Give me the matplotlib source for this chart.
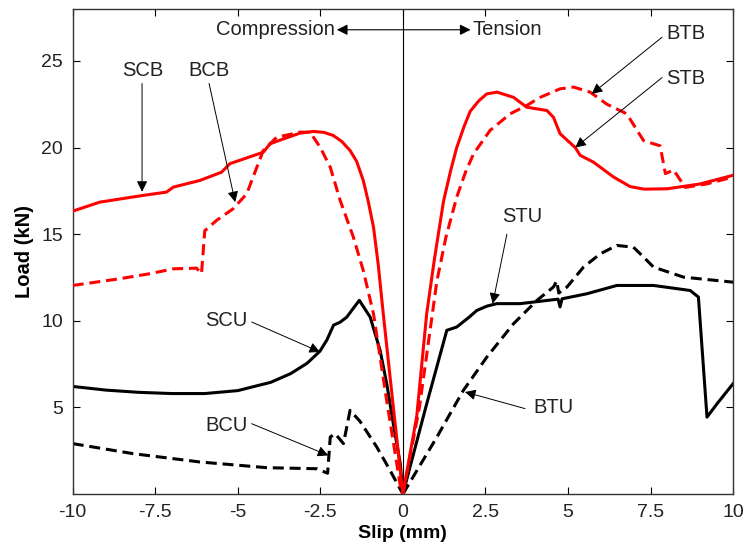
import numpy as np
import matplotlib
matplotlib.use("Agg")
import matplotlib.pyplot as plt

plt.rcParams['font.family'] = ['Liberation Sans', 'DejaVu Sans']

# --- datos (slip en mm, carga en kN) ---
# compresion (slip negativo)
scb_x = [-10.0, -9.18, -7.86, -7.16, -6.95, -6.15, -5.49, -5.24, -4.23, -4.02, -3.62,
         -3.12, -2.71, -2.4, -2.11, -1.85, -1.6, -1.4, -1.2, -1.05, -0.89, -0.75, -0.6,
         -0.3, 0.0]
scb_y = [16.33, 16.85, 17.24, 17.43, 17.72, 18.1, 18.58, 19.07, 19.73, 20.22, 20.5,
         20.83, 20.93, 20.88, 20.7, 20.35, 19.83, 19.2, 18.1, 16.9, 15.4, 13.3, 10.5,
         5.2, 0.0]

bcb_x = [-10.0, -8.57, -7.66, -6.95, -6.25, -6.1, -6.0, -5.64, -5.14, -4.73, -4.23,
         -3.82, -3.32, -3.12, -2.81, -2.5, -2.2, -1.9, -1.5, -1.2, -0.89, -0.5, -0.08, 0.0]
bcb_y = [12.04, 12.43, 12.72, 13.0, 13.04, 12.72, 15.2, 15.8, 16.47, 17.33, 19.83,
         20.6, 20.8, 20.89, 20.89, 20.0, 18.87, 16.95, 14.83, 12.9, 10.4, 5.5, 0.5, 0.0]

scu_x = [-10.0, -9.0, -8.0, -7.0, -6.0, -5.0, -4.0, -3.4, -2.9, -2.51, -2.3, -2.1,
         -1.9, -1.7, -1.55, -1.32, -0.99, -0.69, -0.49, -0.29, -0.08, 0.0]
scu_y = [6.21, 6.0, 5.87, 5.8, 5.8, 5.97, 6.45, 6.95, 7.55, 8.25, 8.9, 9.75,
         9.92, 10.21, 10.6, 11.18, 10.21, 8.29, 6.37, 4.06, 1.75, 0.0]

bcu_x = [-10.0, -8.17, -6.15, -4.12, -2.61, -2.28, -2.2, -2.05, -1.8, -1.6, -1.3,
         -0.79, -0.39, 0.0]
bcu_y = [2.91, 2.33, 1.85, 1.52, 1.46, 1.2, 3.29, 3.48, 2.91, 4.83, 4.2,
         2.71, 1.37, 0.0]

# traccion (slip positivo)
stb_x = [0.0, 0.42, 0.72, 0.95, 1.23, 1.45, 1.63, 1.85, 2.04, 2.3, 2.54, 2.85, 3.35,
         3.75, 4.36, 4.56, 4.76, 5.22, 5.37, 5.77, 6.38, 6.88, 7.3, 8.0, 9.0, 10.0]
stb_y = [0.0, 4.5, 10.4, 13.5, 16.9, 18.7, 20.0, 21.2, 22.1, 22.7, 23.1, 23.2, 22.9,
         22.33, 22.14, 21.75, 20.8, 20.0, 19.55, 19.16, 18.3, 17.75, 17.6, 17.62, 17.9, 18.4]

btb_x = [0.0, 0.5, 1.03, 1.3, 1.63, 1.9, 2.14, 2.64, 3.25, 3.75, 4.16, 4.76, 5.17, 5.67,
         6.18, 6.78, 7.09, 7.29, 7.79, 7.95, 8.2, 8.55, 9.2, 10.0]
btb_y = [0.0, 5.0, 12.3, 14.8, 17.14, 18.6, 19.64, 20.99, 21.95, 22.43, 22.9, 23.39,
         23.49, 23.2, 22.5, 21.95, 21.0, 20.4, 20.1, 18.5, 18.7, 17.7, 17.9, 18.3]

stu_x = [0.0, 0.72, 1.33, 1.63, 2.0, 2.24, 2.55, 2.85, 3.55, 4.7, 4.76, 4.82, 5.57,
         6.48, 7.59, 8.7, 8.95, 9.21, 9.51, 10.0]
stu_y = [0.0, 5.2, 9.45, 9.64, 10.2, 10.6, 10.85, 10.99, 10.99, 11.25, 10.8, 11.27,
         11.56, 12.04, 12.04, 11.75, 11.37, 4.44, 5.2, 6.37]

btu_x = [0.0, 1.03, 1.83, 2.54, 3.35, 4.06, 4.56, 4.66, 4.72, 4.97, 5.47, 5.98, 6.48,
         6.98, 7.29, 7.59, 8.5, 10.0]
btu_y = [0.0, 3.29, 5.98, 7.9, 9.83, 11.18, 11.95, 12.3, 11.6, 11.95, 13.1, 13.87, 14.35,
         14.25, 13.68, 13.1, 12.52, 12.23]

# etiquetas: (texto, posicion del texto, punta de flecha)
etiquetas = [
    ("SCB", (-7.87, 24.45), (-7.9, 17.45)),
    ("BCB", (-5.87, 24.45), (-5.08, 16.85)),
    ("BTB", (8.56, 26.56), (5.72, 23.1)),
    ("STB", (8.56, 24.0), (5.22, 20.0)),
    ("STU", (3.6, 16.0), (2.72, 10.99)),
    ("BTU", (4.56, 5.0), (1.88, 5.89)),
    ("SCU", (-5.34, 10.0), (-2.51, 8.2)),
    ("BCU", (-5.34, 3.96), (-2.26, 2.23)),
]
# inicio de cada flecha (en unidades de datos)
colas = [(-7.9, 23.7), (-5.87, 23.7), (7.85, 26.37), (7.85, 24.04),
         (3.15, 15.0), (3.7, 4.93), (-4.58, 9.93), (-4.58, 4.06)]

fig = plt.figure(figsize=(7.45, 5.48), dpi=100)
ax = fig.add_axes([0.0976, 0.0985, 0.8864, 0.8851])

lw = 2.2
dash = (0, (3.6, 1.9))
ax.axvline(0, color='k', lw=0.8, zorder=1)
ax.plot(scu_x, scu_y, color='k', lw=lw, zorder=2)
ax.plot(bcu_x, bcu_y, color='k', lw=lw, linestyle=dash, zorder=2)
ax.plot(stu_x, stu_y, color='k', lw=lw, zorder=2)
ax.plot(btu_x, btu_y, color='k', lw=lw, linestyle=dash, zorder=2)
ax.plot(scb_x, scb_y, color='r', lw=lw, zorder=3)
ax.plot(bcb_x, bcb_y, color='r', lw=lw, linestyle=dash, zorder=3)
ax.plot(stb_x, stb_y, color='r', lw=lw, zorder=3)
ax.plot(btb_x, btb_y, color='r', lw=lw, linestyle=dash, zorder=3)

for (txt, pos, tip), cola in zip(etiquetas, colas):
    ax.text(pos[0], pos[1], txt, ha='center', va='center', fontsize=14.5, color='#222222')
    ax.annotate("", xy=tip, xytext=cola,
                arrowprops=dict(arrowstyle='-|>', color='k', lw=0.7,
                                mutation_scale=16, shrinkA=0, shrinkB=0))

# flecha compresion / traccion
ax.annotate("", xy=(-2.0, 26.8), xytext=(2.05, 26.8),
            arrowprops=dict(arrowstyle='<|-|>', color='k', lw=0.8,
                            mutation_scale=16, shrinkA=0, shrinkB=0))
ax.text(-2.05, 26.8, "Compression", ha='right', va='center', fontsize=14.5, color='#222222')
ax.text(2.12, 26.8, "Tension", ha='left', va='center', fontsize=14.5, color='#222222')

ax.set_xlim(-10, 10)
ax.set_ylim(0, 28)
ax.set_xticks([-10, -7.5, -5, -2.5, 0, 2.5, 5, 7.5, 10])
ax.set_xticklabels(['-10', '-7.5', '-5', '-2.5', '0', '2.5', '5', '7.5', '10'])
ax.set_yticks([5, 10, 15, 20, 25])
ax.tick_params(direction='in', top=True, right=True, length=5, width=0.8,
               labelsize=14, labelcolor='#222222', pad=7)
for s in ax.spines.values():
    s.set_linewidth(1.0)
    s.set_color('#333333')

ax.set_xlabel("Slip (mm)", fontsize=14, fontweight='bold', labelpad=3)
ax.set_ylabel("Load (kN)", fontsize=14.5, fontweight='bold', labelpad=5)

fig.savefig("out.png", dpi=100)
